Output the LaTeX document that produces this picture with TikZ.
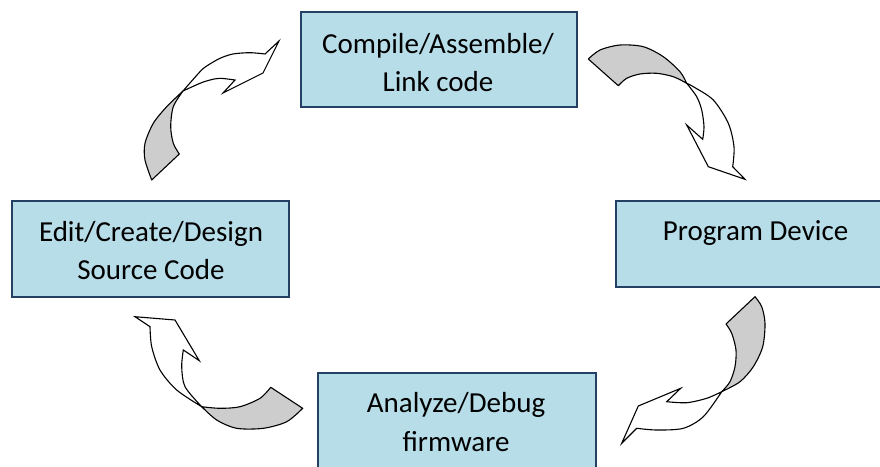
\documentclass[tikz,border=0pt]{standalone}
\usepackage{fontspec}
\setmainfont{Carlito}
\definecolor{boxfill}{RGB}{183,221,232}
\definecolor{boxline}{RGB}{36,64,98}
\definecolor{backgray}{RGB}{205,205,205}
\begin{document}
\begin{tikzpicture}[x=1pt,y=-1pt,
  stagebox/.style={draw=boxline, fill=boxfill, line width=1.2pt, inner sep=0pt},
  stagetext/.style={font=\fontsize{29}{36}\selectfont, anchor=base, inner sep=0pt, text=black},
  backface/.style={fill=backgray, draw=black, line width=1.1pt, line join=round},
  frontface/.style={fill=white, draw=black, line width=1.1pt, line join=miter}]
\useasboundingbox (0,0) rectangle (880,466);
\clip (0,0) rectangle (880,466);
\fill[white] (0,0) rectangle (880,466);

% boxes
\node[stagebox, minimum width=276pt, minimum height=95pt] (compile) at (439,59.5) {};
\node[stagebox, minimum width=277pt, minimum height=96pt] (edit) at (150.5,249) {};
\node[stagebox, minimum width=279pt, minimum height=86pt] (program) at (755.5,244) {};
\node[stagebox, minimum width=278pt, minimum height=96pt] (analyze) at (457,421) {};

% texts
\node[stagetext] (compileA) at (438,53) {Compile/Assemble/};
\node[stagetext] (compileB) at (438,91.5) {Link code};
\node[stagetext] (editA) at (151,241) {Edit/Create/Design};
\node[stagetext] (editB) at (151,279.5) {Source Code};
\node[stagetext] (programA) at (755.5,240) {Program Device};
\node[stagetext] (analyzeA) at (456,412.5) {Analyze/Debug};
\node[stagetext] (analyzeB) at (456,451) {firmware};

% arrow 1 (edit -> compile)
\filldraw[backface] plot[smooth] coordinates {(183,91) (166.7,106.7) (153.3,123.3) (145,143.3) (145,160) (151.7,180)}
  -- plot[smooth] coordinates {(179.3,154) (173.3,143.3) (170.7,126.7) (173.3,106.7) (183,91)} -- cycle;
\filldraw[frontface] plot[smooth] coordinates {(183,91) (200,71.7) (206.7,66) (220,58.3) (233,54) (250,52.7) (265,54)}
  -- (279,41) -- (263,73) -- (223,93) -- (235,80)
  -- plot[smooth] coordinates {(235,80) (220,78.3) (210,80) (200,83.3) (183,91)} -- cycle;

% arrow 2 (compile -> program)
\filldraw[backface] plot[smooth] coordinates {(588.3,59) (600,50) (620,45) (643.3,46.7) (663.3,56.7) (680,71.7) (686.7,83.3)}
  -- plot[smooth] coordinates {(686.7,83.3) (673.3,76.7) (656.7,73.3) (640,74) (626.7,78.3) (618.3,85.7)} -- cycle;
\filldraw[frontface] plot[smooth] coordinates {(686.7,83.3) (696.7,96.7) (701.7,110) (704,126.7) (702.7,139.3)}
  -- (686.7,125) -- (708.3,166.7) -- (745,179.3) -- (732.7,166.7)
  -- plot[smooth] coordinates {(732.7,166.7) (734,146.7) (728.3,123.3) (713.3,100) (693.3,86.7) (686.7,83.3)} -- cycle;

% arrow 3 (program -> analyze)
\filldraw[backface] plot[smooth] coordinates {(755,296.7) (761.7,306.7) (765,323.3) (762.7,346.7) (753.3,366.7) (740,381.7) (721.7,391.7)}
  -- plot[smooth] coordinates {(721.7,391.7) (730,381.7) (735,366.7) (736,350) (731.7,333.3) (726,324)} -- cycle;
\filldraw[frontface] plot[smooth] coordinates {(721.7,391.7) (706.7,398.3) (686.7,402.7) (666.7,401.7)}
  -- (680.7,388.3) -- (638.3,406) -- (621.7,443.3) -- (636.7,428.3)
  -- plot[smooth] coordinates {(636.7,428.3) (656.7,430) (683.3,428.3) (703.3,416.7) (721.7,391.7)} -- cycle;

% arrow 4 (analyze -> edit)
\filldraw[backface] plot[smooth] coordinates {(302.7,408.3) (286.7,421.7) (263.3,428.3) (236.7,428.3) (216.7,420) (201.7,406.7)}
  -- plot[smooth] coordinates {(201.7,406.7) (220,408.3) (240,406.7) (260,398.3) (270.7,387.3)} -- cycle;
\filldraw[frontface] plot[smooth] coordinates {(201.7,406.7) (176.7,390) (160,370) (151.7,346.7) (150,326.7)}
  -- (135,316.7) -- (175,320) -- (199.3,360.7) -- (183.3,350)
  -- plot[smooth] coordinates {(183.3,350) (181.7,366.7) (185,386.7) (201.7,406.7)} -- cycle;
\end{tikzpicture}
\end{document}
